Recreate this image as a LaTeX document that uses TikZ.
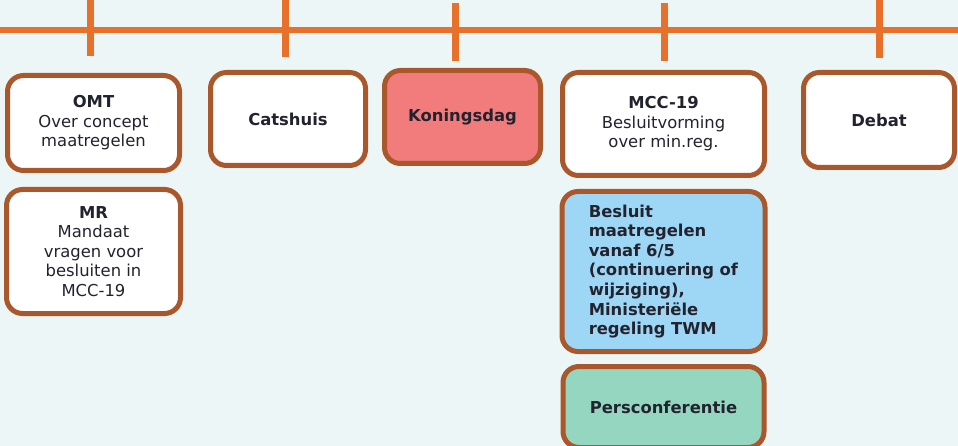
\documentclass[tikz,border=0pt]{standalone}
\usepackage{fontspec}
\setmainfont{DejaVu Sans}
\usetikzlibrary{positioning}

\definecolor{bgtint}{HTML}{ECF6F6}
\definecolor{lineorange}{HTML}{E7702A}
\definecolor{boxbrown}{HTML}{A9572B}
\definecolor{kingred}{HTML}{F27B7B}
\definecolor{decblue}{HTML}{9DD7F5}
\definecolor{pressgreen}{HTML}{95D6C1}
\definecolor{inkdark}{HTML}{23232F}

\begin{document}
\begin{tikzpicture}[x=1pt,y=-1pt,node distance=14pt,
                    event/.style={draw=boxbrown,line width=5pt,fill=white,rounded corners=16pt,
                                  align=center,text=inkdark,inner sep=4pt,
                                  font=\fontsize{16.4}{19.6}\selectfont},
                    tick/.style={draw=lineorange,line width=7pt}]

  \useasboundingbox[fill=bgtint] (0,0) rectangle (958,446);

  % timeline
  \draw[lineorange,line width=6pt] (0,30) -- (958,30);
  \foreach \tx/\ty/\tz in {90/0/56, 285/0/57, 455/3/61, 664/3/61, 879/0/58}
    \draw[tick] (\tx,\ty) -- (\tx,\tz);

  % top row
  \node[event,minimum width=172pt,minimum height=95pt] (omt) at (93.5,123)
    {\textbf{OMT}\\Over concept\\maatregelen};
  \node[event,minimum width=155pt,minimum height=93pt] (cats) at (288,119)
    {\textbf{Catshuis}};
  \node[event,fill=kingred,minimum width=156pt,minimum height=93pt] (king) at (462.5,117)
    {\textbf{Koningsdag}};
  \node[event,minimum width=202pt,minimum height=103pt] (mcc) at (663.5,124)
    {\textbf{MCC-19}\\Besluitvorming\\over min.reg.};
  \node[event,minimum width=151pt,minimum height=95pt] (debat) at (879,120)
    {\textbf{Debat}};

  % below
  \node[event,minimum width=174pt,minimum height=124pt] (mr) [below=14pt of omt]
    {\textbf{MR}\\Mandaat\\vragen voor\\besluiten in\\MCC-19};
  \node[event,fill=decblue,align=left,minimum width=203pt,minimum height=160pt] (besluit) [below=11pt of mcc]
    {\textbf{Besluit}\\\textbf{maatregelen}\\\textbf{vanaf 6/5}\\\textbf{(continuering of}\\\textbf{wijziging),}\\\textbf{Ministeriële}\\\textbf{regeling TWM}};
  \node[event,fill=pressgreen,minimum width=201pt,minimum height=81pt] (pers) [below=10pt of besluit]
    {\textbf{Persconferentie}};
\end{tikzpicture}
\end{document}
